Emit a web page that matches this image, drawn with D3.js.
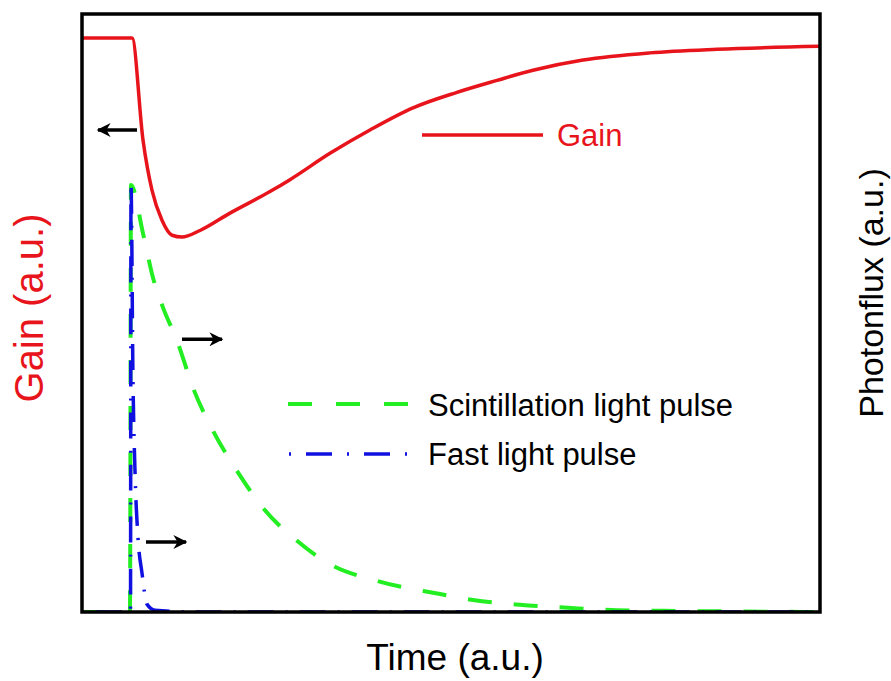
<!DOCTYPE html>
<html>
<head>
<meta charset="utf-8">
<script src="https://cdn.jsdelivr.net/npm/d3@7"></script>
<style>
  html, body { margin: 0; padding: 0; background: #fff; }
  text { font-family: "Liberation Sans", Arial, sans-serif; }
</style>
</head>
<body>
<div id="chart"></div>
<script>
// Gain curve (left axis), time in a.u. 0..100
const gainTime = [0, 6.78, 8.27, 9.49, 10.84, 12.2, 13.55, 15.99, 20.05, 25.47, 28.18, 33.6, 39.02, 44.85, 50.81, 56.23, 61.11, 67.89, 76.96, 86.04, 100];
const gainValue = [0.96, 0.96, 0.789, 0.705, 0.655, 0.63, 0.627, 0.638, 0.667, 0.703, 0.723, 0.767, 0.806, 0.843, 0.869, 0.889, 0.906, 0.923, 0.935, 0.941, 0.946];

// Scintillation light pulse (right axis)
const scintTime = [0, 6.5, 6.64, 8.27, 9.62, 10.98, 12.87, 15.04, 17.75, 21.0, 24.53, 29.13, 33.6, 39.97, 48.51, 52.98, 59.35, 65.85, 72.49, 78.73, 100];
const scintValue = [0, 0, 0.714, 0.633, 0.559, 0.509, 0.454, 0.375, 0.303, 0.236, 0.174, 0.119, 0.08, 0.052, 0.03, 0.02, 0.012, 0.007, 0.003, 0.002, 0];

// Fast light pulse (right axis)
const fastTime = [0, 6.57, 6.64, 6.91, 7.18, 7.59, 8.13, 8.81, 9.89, 16, 100];
const fastValue = [0, 0, 0.717, 0.387, 0.236, 0.124, 0.065, 0.013, 0.003, 0, 0];

// arrows telling which axis a curve belongs to: [from t, to t, level]
const arrowFrom = [7.45, 13.55, 8.67];
const arrowTo = [2.17, 18.97, 14.09];
const arrowLevel = [0.806, 0.456, 0.117];

const legendLabels = ['Gain', 'Scintillation light pulse', 'Fast light pulse'];

const width = 891, height = 681;
const margin = { left: 82, top: 14, right: 71, bottom: 69 };
const innerW = width - margin.left - margin.right;
const innerH = height - margin.top - margin.bottom;

const RED = '#e8141c', GREEN = '#22ee22', BLUE = '#1010e0';

const svg = d3.select('#chart').append('svg')
  .attr('width', width)
  .attr('height', height);

const defs = svg.append('defs');
defs.append('clipPath').attr('id', 'plotClip')
  .append('rect').attr('x', 0).attr('y', -2).attr('width', innerW).attr('height', innerH + 2);

defs.append('marker')
  .attr('id', 'arrowHead')
  .attr('viewBox', '0 0 10 10')
  .attr('refX', 9).attr('refY', 5)
  .attr('markerWidth', 4.5).attr('markerHeight', 4)
  .attr('markerUnits', 'strokeWidth')
  .attr('orient', 'auto')
  .append('path').attr('d', 'M0,0 L10,5 L0,10 L3,5 Z').attr('fill', '#000');

const g = svg.append('g').attr('transform', `translate(${margin.left},${margin.top})`);

// scales
const x = d3.scaleLinear().domain([0, 100]).range([0, innerW]);
const yGain = d3.scaleLinear().domain([0, 1]).range([innerH, 0]);
const yFlux = d3.scaleLinear().domain([0, 1]).range([innerH, 0]);

const plot = g.append('g').attr('clip-path', 'url(#plotClip)');

function drawSeries(times, values, yScale, color, widthPx, dash) {
  const pts = times.map((t, i) => [t, values[i]]);
  const line = d3.line()
    .x(d => x(d[0]))
    .y(d => yScale(d[1]))
    .curve(d3.curveMonotoneX);
  plot.append('path')
    .datum(pts)
    .attr('fill', 'none')
    .attr('stroke', color)
    .attr('stroke-width', widthPx)
    .attr('stroke-dasharray', dash)
    .attr('d', line);
}

drawSeries(scintTime, scintValue, yFlux, GREEN, 4, '24,22');
drawSeries(fastTime, fastValue, yFlux, BLUE, 3.5, '2,12,26,12');
drawSeries(gainTime, gainValue, yGain, RED, 3.5, null);

// arrows
g.selectAll('.arrow')
  .data(arrowLevel.map((v, i) => ({ from: arrowFrom[i], to: arrowTo[i], v })))
  .enter().append('line')
  .attr('class', 'arrow')
  .attr('x1', d => x(d.from))
  .attr('x2', d => x(d.to))
  .attr('y1', d => yGain(d.v))
  .attr('y2', d => yGain(d.v))
  .attr('stroke', '#000')
  .attr('stroke-width', 3.5)
  .attr('marker-end', 'url(#arrowHead)');

// frame
g.append('rect')
  .attr('width', innerW)
  .attr('height', innerH)
  .attr('fill', 'none')
  .attr('stroke', '#000')
  .attr('stroke-width', 3.5);

// legend
const legend = svg.append('g');
legend.append('line').attr('x1', 422).attr('x2', 543).attr('y1', 135).attr('y2', 135)
  .attr('stroke', RED).attr('stroke-width', 3.5);
legend.append('text').attr('x', 557).attr('y', 146).attr('font-size', 31).attr('fill', RED).text(legendLabels[0]);

legend.append('line').attr('x1', 288).attr('x2', 410).attr('y1', 404).attr('y2', 404)
  .attr('stroke', GREEN).attr('stroke-width', 4).attr('stroke-dasharray', '24,24');
legend.append('text').attr('x', 428).attr('y', 416).attr('font-size', 31).attr('fill', '#000').text(legendLabels[1]);

legend.append('line').attr('x1', 289).attr('x2', 407).attr('y1', 454).attr('y2', 454)
  .attr('stroke', BLUE).attr('stroke-width', 3.5).attr('stroke-dasharray', '2,15,26,15');
legend.append('text').attr('x', 428).attr('y', 465).attr('font-size', 31).attr('fill', '#000').text(legendLabels[2]);

// axis titles
svg.append('text')
  .attr('x', 455).attr('y', 670)
  .attr('text-anchor', 'middle')
  .attr('font-size', 37)
  .attr('fill', '#000')
  .text('Time (a.u.)');

svg.append('text')
  .attr('transform', 'translate(43,308) rotate(-90)')
  .attr('text-anchor', 'middle')
  .attr('font-size', 40)
  .attr('fill', RED)
  .text('Gain (a.u.)');

svg.append('text')
  .attr('transform', 'translate(883,293) rotate(-90)')
  .attr('text-anchor', 'middle')
  .attr('font-size', 34)
  .attr('fill', '#000')
  .text('Photonflux (a.u.)');
</script>
</body>
</html>
